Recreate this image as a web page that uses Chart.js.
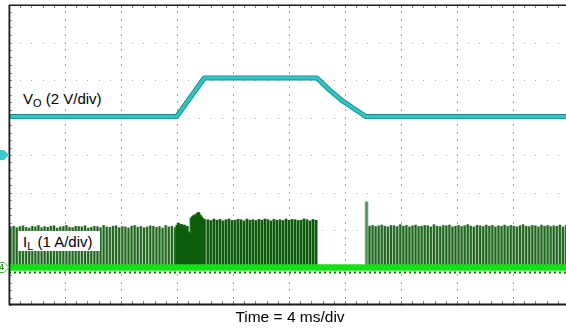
<!DOCTYPE html>
<html><head><meta charset="utf-8">
<script src="https://cdn.jsdelivr.net/npm/chart.js@4.4.0/dist/chart.umd.min.js"></script>
<style>
html,body{margin:0;padding:0;background:#fff;overflow:hidden;}
#wrap{position:relative;width:566px;height:329px;overflow:hidden;background:#fff;}
#c{position:absolute;left:0;top:0;}
.lbl{position:absolute;font-family:"Liberation Sans",Arial,sans-serif;font-size:15px;color:#000;white-space:nowrap;background:#fff;}
.sub{font-size:11px;position:relative;top:3px;}
</style></head>
<body><div id="wrap"><canvas id="c" width="570" height="329"></canvas>
<div class="lbl" id="vo" style="left:21px;top:90px;line-height:17px;padding:0 2px;">V<span class="sub">O</span> (2 V/div)</div>
<div class="lbl" id="il" style="left:18px;top:231px;width:82px;height:20px;line-height:22px;padding-left:5px;box-sizing:border-box;overflow:hidden;">I<span class="sub">L</span> (1 A/div)</div>
<div class="lbl" id="time" style="left:0;width:580px;text-align:center;top:308px;line-height:17px;font-size:15.5px;background:transparent;">Time = 4 ms/div</div>
</div>
<script>
// ---- data read from the scope capture (time in ms, Vo in V, IL in A) ----
const voTimes  = [0, 11.98, 13.95, 22.0, 22.9, 23.8, 24.7, 25.5, 40];
const voValues = [2.05, 2.05, 4.11, 4.11, 3.46, 2.90, 2.44, 2.05, 2.05];

// switching-pulse peak currents, segment by segment
const ilSpanA = [0.11, 11.86];
const ilPeaksA = [1.08,1.10,1.06,1.09,1.11,1.07,1.05,1.10,1.08,1.12,1.06,1.09,1.07,1.10,1.11,1.05,1.08,1.09,1.12,1.07,1.06,1.10,1.09,1.08,1.11,1.05,1.07,1.10,1.09,1.06,1.12,1.08,1.07,1.10,1.11,1.06,1.09,1.08,1.05,1.10,1.12,1.07,1.09,1.06,1.08,1.11,1.10,1.07,1.09,1.05,1.12,1.08,1.10,1.06];
const ilSpanB = [12.0, 13.95];
const ilPeaksB = [1.12,1.18,1.10,1.15,1.08,1.13,1.06,1.10,0.95,0.90,1.32,1.36,1.40,1.38,1.44,1.47,1.40,1.35,1.30,1.28];
const ilSpanC = [14.21, 21.93];
const ilPeaksC = [1.27,1.25,1.29,1.26,1.28,1.24,1.27,1.29,1.25,1.26,1.28,1.27,1.24,1.29,1.26,1.27,1.25,1.28,1.26,1.29,1.27,1.24,1.28,1.26,1.27,1.25,1.29,1.26,1.28,1.27,1.25,1.26,1.29,1.27,1.24,1.28,1.26];
const ilSpikeTime = 25.54;
const ilSpikePeak = 1.75;
const ilSpanE = [25.75, 39.79];
const ilPeaksE = [1.10,1.12,1.09,1.11,1.13,1.10,1.08,1.12,1.11,1.09,1.14,1.10,1.12,1.08,1.11,1.13,1.09,1.10,1.12,1.11,1.08,1.14,1.10,1.09,1.12,1.11,1.13,1.08,1.10,1.12,1.09,1.11,1.14,1.10,1.08,1.12,1.11,1.09,1.13,1.10,1.12,1.08,1.11,1.10,1.13,1.09,1.12,1.10,1.08,1.11,1.14,1.10,1.09,1.12,1.11,1.08,1.13,1.10,1.12,1.09,1.11,1.10,1.13,1.08,1.12];
const ilBaseline = [0, 0];
const timeRange = [0, 40];

// ---- build library data ----
function pulses(span, peaks){
  const n = peaks.length;
  return peaks.map((p,i)=>({x: span[0] + (span[1]-span[0]) * (n>1 ? i/(n-1) : 0), y: p}));
}
const segs = [
  {d: pulses(ilSpanA, ilPeaksA), light:'#b2c8b2', dark:'#1d681d'},
  {d: pulses(ilSpanB, ilPeaksB), light:'#3f8f3f', dark:'#0c5c0c'},
  {d: pulses(ilSpanC, ilPeaksC), light:'#6aa46a', dark:'#0c580c'},
  {d: [{x: ilSpikeTime, y: ilSpikePeak}], light:'#8cba8c', dark:'#4f904f'},
  {d: pulses(ilSpanE, ilPeaksE), light:'#a2c2a2', dark:'#1f661f'}
];
const ds = [];
segs.forEach(s=>{
  ds.push({type:'bar', data:s.d, xAxisID:'x', yAxisID:'yI', backgroundColor:s.light, barThickness:3, grouped:false, borderWidth:0, order:6});
  ds.push({type:'bar', data:s.d, xAxisID:'x', yAxisID:'yI', backgroundColor:s.dark, barThickness:1.3, grouped:false, borderWidth:0, order:5});
});
const baseData = timeRange.map((t,i)=>({x:t, y:ilBaseline[i]}));
ds.push({type:'line', data: timeRange.map((t,i)=>({x:t, y:ilBaseline[i]-0.13})), xAxisID:'x', yAxisID:'yI', borderColor:'#0a780a', borderWidth:2, borderDash:[2,3], pointRadius:0, order:4});
ds.push({type:'line', data: baseData, xAxisID:'x', yAxisID:'yI', borderColor:'#14e014', borderWidth:6.5, pointRadius:0, order:3});
const voData = voTimes.map((t,i)=>({x:t, y:voValues[i]}));
ds.push({type:'line', data: voData, xAxisID:'x', yAxisID:'yV', borderColor:'#148e8e', borderWidth:5, pointRadius:0, tension:0, borderJoinStyle:'round', order:2});
ds.push({type:'line', data: voData, xAxisID:'x', yAxisID:'yV', borderColor:'#30c4c4', borderWidth:3.2, pointRadius:0, tension:0, borderJoinStyle:'round', order:1});

const graticule = {
  id:'graticule',
  beforeDatasetsDraw(chart){
    const {ctx, chartArea:a, scales} = chart;
    const x = scales.x, y = scales.yV;
    ctx.save();
    ctx.fillStyle = '#a4a4a4';
    for (let k=1;k<10;k++){
      const px = Math.round(x.getPixelForValue(k*4));
      for (let j=0;j<=40;j++){
        const py = Math.round(y.getPixelForValue(-8 + j*0.4));
        ctx.fillRect(px, py-1, 1, 2);
      }
    }
    for (let k=-3;k<=3;k++){
      const py = Math.round(y.getPixelForValue(k*2));
      for (let j=0;j<=50;j++){
        const px = Math.round(x.getPixelForValue(j*0.8));
        ctx.fillRect(px, py, 1, 1);
      }
    }
    ctx.fillStyle = '#808080';
    for (let j=0;j<=50;j++){
      const px = Math.round(x.getPixelForValue(j*0.8));
      ctx.fillRect(px, a.top, 1, 3);
      ctx.fillRect(px, a.bottom-4, 1, 3);
    }
    for (let j=0;j<=40;j++){
      const py = Math.round(y.getPixelForValue(-8 + j*0.4));
      ctx.fillRect(a.left, py, 3, 1);
    }
    ctx.restore();
  },
  afterDatasetsDraw(chart){
    const {ctx, chartArea:a, scales} = chart;
    ctx.save();
    ctx.fillStyle = '#1a1a1a';
    ctx.fillRect(a.left, a.top-0.5, a.right-a.left, 1.5);
    ctx.fillRect(a.left-0.5, a.top, 1.8, a.bottom-a.top);
    ctx.fillRect(a.left, a.bottom-1.5, a.right-a.left, 2);
    // channel ground markers
    const y2 = scales.yV.getPixelForValue(0);
    ctx.fillStyle = '#38cccc';
    ctx.beginPath();
    ctx.moveTo(-1, y2-5); ctx.lineTo(4, y2-5); ctx.lineTo(9, y2); ctx.lineTo(4, y2+5); ctx.lineTo(-1, y2+5); ctx.closePath();
    ctx.fill();
    const y4 = scales.yI.getPixelForValue(0);
    ctx.fillStyle = '#ffffff'; ctx.strokeStyle = '#22bb22'; ctx.lineWidth = 1;
    ctx.beginPath();
    ctx.moveTo(-1, y4-5); ctx.lineTo(4, y4-5); ctx.lineTo(9, y4); ctx.lineTo(4, y4+5); ctx.lineTo(-1, y4+5); ctx.closePath();
    ctx.fill(); ctx.stroke();
    ctx.fillStyle = '#22aa22';
    ctx.font = 'bold 9px "Liberation Sans", Arial, sans-serif';
    ctx.textBaseline = 'middle';
    ctx.fillText('4', -1, y4+0.5);
    ctx.restore();
  }
};

new Chart(document.getElementById('c'), {
  type:'bar',
  data:{datasets: ds},
  options:{
    responsive:false, animation:false, devicePixelRatio:1,
    layout:{padding:{left:9, top:5, right:1, bottom:24}},
    plugins:{legend:{display:false}, tooltip:{enabled:false}},
    scales:{
      x:{type:'linear', min:0, max:40, display:false, offset:false},
      yV:{type:'linear', min:-8, max:8, display:false},
      yI:{type:'linear', min:-1, max:7, display:false}
    }
  },
  plugins:[graticule]
});
</script>
</body></html>
